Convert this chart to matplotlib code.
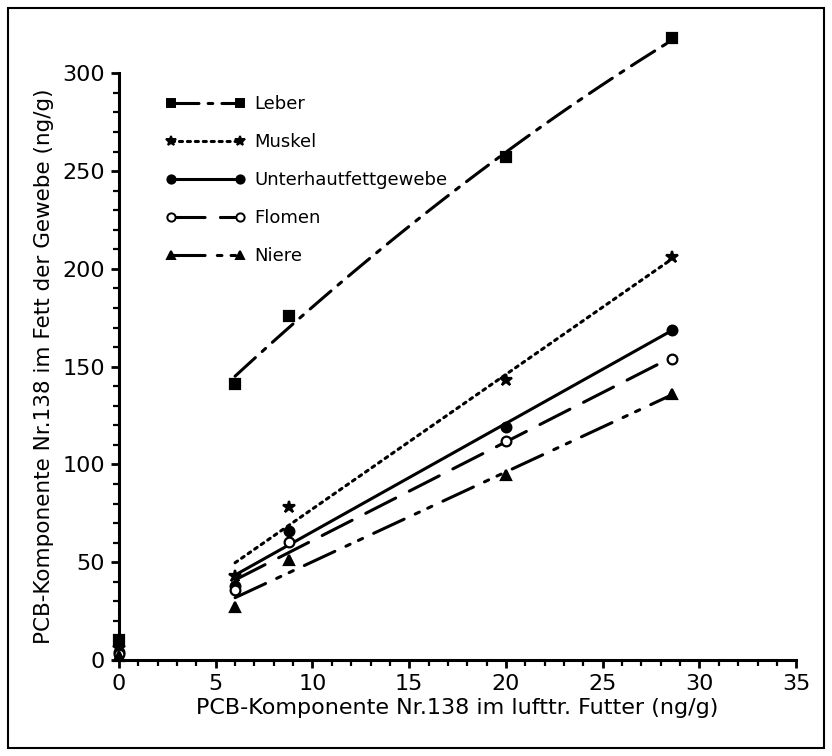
import numpy as np
import matplotlib

matplotlib.use("Agg")
import matplotlib.pyplot as plt
from matplotlib.lines import Line2D
from matplotlib.patches import Rectangle
from matplotlib.ticker import MultipleLocator

# Feed concentration (ng/g) and tissue-fat concentrations (ng/g).
futter = [0, 6, 8.8, 20, 28.6]
leber = [10, 141, 176, 257, 318]
muskel = [6, 43, 78, 143, 206]
unterhaut = [4, 38, 66, 119, 169]
flomen = [3, 36, 60.5, 112, 154]
niere = [2, 27, 51, 94.5, 136]

labels = ["Leber", "Muskel", "Unterhautfettgewebe", "Flomen", "Niere"]

INK = "black"

# (series, marker, marker face, marker size, line style, fit degree)
SERIES = [
    (leber, "s", INK, 6.5, (0, (9, 3, 1.5, 3)), 2),
    (muskel, "*", INK, 9, (0, (1, 1.6)), 1),
    (unterhaut, "o", INK, 7, "-", 1),
    (flomen, "o", "white", 7, (0, (11, 5)), 1),
    (niere, "^", INK, 7, (0, (11, 4, 1.5, 3, 1.5, 4)), 1),
]

fig = plt.figure(figsize=(8.32, 7.56), dpi=100)
ax = fig.add_axes([0.143, 0.127, 0.814, 0.776])

x = np.array(futter)
handles = []
for (vals, mk, mfc, ms, ls, deg), lab in zip(SERIES, labels):
    y = np.array(vals)
    # fitted curve drawn over the fed groups only (x > 0)
    sel = x > 0
    coef = np.polyfit(x[sel], y[sel], deg)
    xs = np.linspace(x[sel].min(), x[sel].max(), 100)
    ax.plot(xs, np.polyval(coef, xs), color=INK, lw=2.2, linestyle=ls,
            dash_capstyle="round", solid_capstyle="round", zorder=2,
            clip_on=False)
    ax.plot(x, y, linestyle="none", marker=mk, ms=ms, mfc=mfc, mec=INK,
            mew=1.6, zorder=3, clip_on=False)
    handles.append(Line2D([], [], color=INK, lw=2.2, linestyle=ls,
                          dash_capstyle="round", marker=mk, ms=ms * 0.85,
                          mfc=mfc, mec=INK, mew=1.4))

ax.set_xlim(0, 35)
ax.set_ylim(0, 300)
ax.xaxis.set_major_locator(MultipleLocator(5))
ax.xaxis.set_minor_locator(MultipleLocator(1))
ax.yaxis.set_major_locator(MultipleLocator(50))
ax.yaxis.set_minor_locator(MultipleLocator(10))

for side in ("top", "right"):
    ax.spines[side].set_visible(False)
for side in ("left", "bottom"):
    ax.spines[side].set_linewidth(2.2)

ax.tick_params(which="major", direction="out", length=6, width=2,
               labelsize=16, pad=4)
ax.tick_params(which="minor", direction="out", length=4, width=1.6)

ax.set_xlabel("PCB-Komponente Nr.138 im lufttr. Futter (ng/g)", fontsize=16,
              labelpad=3)
ax.set_ylabel("PCB-Komponente Nr.138 im Fett der Gewebe (ng/g)", fontsize=15.5,
              labelpad=6)

ax.legend(handles, labels, numpoints=2, frameon=False, loc="upper left",
          bbox_to_anchor=(0.045, 0.99), handlelength=4.4, handletextpad=0.5,
          labelspacing=1.1, fontsize=13)

# outer frame round the whole figure
fig.patches.append(Rectangle((0.01, 0.01), 0.98, 0.98, transform=fig.transFigure,
                             fill=False, lw=1.5, ec=INK))

fig.savefig("out.png", dpi=100, facecolor="white")
